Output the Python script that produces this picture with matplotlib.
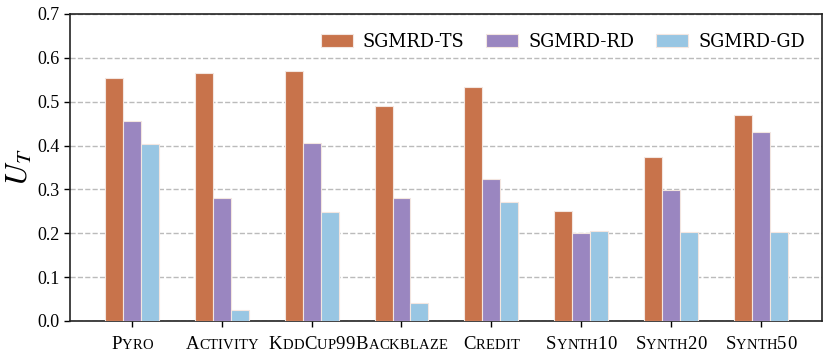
import numpy as np
import matplotlib
matplotlib.use('Agg')
import matplotlib.pyplot as plt
from matplotlib.offsetbox import TextArea, HPacker, AnnotationBbox

# Data
datasets = ['Pyro', 'Activity', 'KddCup99', 'Backblaze', 'Credit', 'Synth10', 'Synth20', 'Synth50']
series_names = ['SGMRD-TS', 'SGMRD-RD', 'SGMRD-GD']
ts_vals = [0.554, 0.565, 0.571, 0.491, 0.534, 0.251, 0.374, 0.470]
rd_vals = [0.455, 0.280, 0.406, 0.280, 0.323, 0.201, 0.299, 0.431]
gd_vals = [0.404, 0.025, 0.248, 0.041, 0.271, 0.205, 0.204, 0.203]
colors = ['#C8734B', '#9A86C0', '#98C6E3']

plt.rcParams['font.family'] = ['Liberation Serif', 'DejaVu Serif']
plt.rcParams['mathtext.fontset'] = 'stix'

fig = plt.figure(figsize=(8.3, 3.58), dpi=100)
ax = fig.add_axes([0.0843, 0.1034, 0.9060, 0.8576])

x = np.arange(len(datasets))
width = 0.2
for k, vals in enumerate([ts_vals, rd_vals, gd_vals]):
    ax.bar(x + (k - 1) * width, vals, width, color=colors[k], edgecolor='#F3E6E0',
           linewidth=0.8, label=series_names[k], zorder=3)

ax.set_ylim(0, 0.7)
ax.set_xlim(-0.69, 7.68)
ax.set_yticks(np.arange(0, 0.71, 0.1))
ax.set_yticklabels(['%.1f' % v for v in np.arange(0, 0.71, 0.1)], fontsize=13)
ax.yaxis.grid(True, linestyle='--', color='#BBBBBB', linewidth=1.0, zorder=0)
ax.set_ylabel('$U_T$', fontsize=22, labelpad=2)

# x tick labels in small caps
ax.set_xticks(x)
ax.set_xticklabels([''] * len(datasets))
for i, name in enumerate(datasets):
    parts = []
    for ch in name:
        if ch.islower():
            parts.append(TextArea(ch.upper(), textprops=dict(fontsize=10.5)))
        else:
            parts.append(TextArea(ch, textprops=dict(fontsize=13.5)))
    box = HPacker(children=parts, align='baseline', pad=0, sep=0.1)
    ab = AnnotationBbox(box, (i, 0), xycoords=('data', 'axes fraction'),
                        xybox=(0, -17), boxcoords='offset points',
                        box_alignment=(0.5, 0.5), frameon=False)
    ax.add_artist(ab)

for s in ax.spines.values():
    s.set_linewidth(1.2)
    s.set_color('#222222')
ax.tick_params(axis='both', length=4, width=1.0)

ax.legend(loc='center right', bbox_to_anchor=(0.987, 0.909), ncol=3, frameon=False,
          prop={'family': 'DejaVu Serif', 'size': 12.8}, borderaxespad=0,
          handlelength=1.8, handleheight=0.79, columnspacing=1.24,
          handletextpad=0.56)

fig.savefig('out.png', dpi=100)
